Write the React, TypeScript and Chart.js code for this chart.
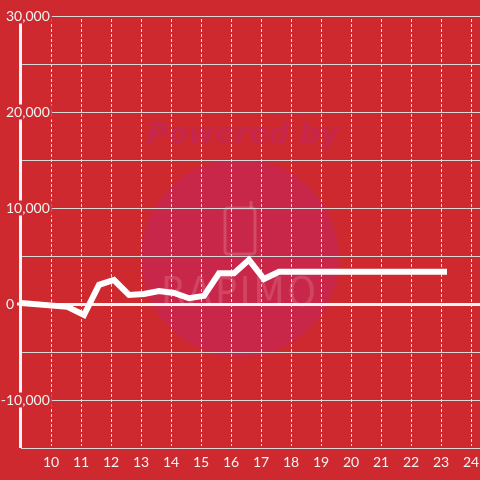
import React, { useEffect, useRef } from 'react';
import { Chart, registerables } from 'chart.js';

Chart.register(...registerables);

// ---- data ----
const hours = [9, 10.55, 11.1, 11.6, 12.1, 12.6, 13.1, 13.6, 14.1, 14.6, 15.1, 15.6, 16.1, 16.6, 17.1, 17.6, 23.2];
const values = [100, -300, -1150, 2000, 2500, 950, 1050, 1350, 1150, 600, 850, 3200, 3200, 4600, 2600, 3350, 3350];
const xTicks = [10, 11, 12, 13, 14, 15, 16, 17, 18, 19, 20, 21, 22, 23, 24];
const yGridTicks = [-15000, -10000, -5000, 0, 5000, 10000, 15000, 20000, 25000, 30000];
const yLabelTicks = [30000, 20000, 10000, 0, -10000];

const X_MIN = 9;
const X_MAX = 24.3;
const Y_MIN = -15000;
const Y_MAX = 30000;

const BG = '#cd292e';
const CIRCLE = '#c9274a';
const TEXT = '#f2f2f2';
const FONT = '14px Lato, "DejaVu Sans", sans-serif';

const decor = {
  id: 'decor',
  beforeDraw(chart: any) {
    const ctx = chart.ctx;
    ctx.save();
    ctx.fillStyle = BG;
    ctx.fillRect(0, 0, chart.width, chart.height);
    // watermark
    ctx.beginPath();
    ctx.arc(240, 258, 99, 0, Math.PI * 2);
    ctx.fillStyle = CIRCLE;
    ctx.fill();
    ctx.font = 'italic bold 29px "DejaVu Sans", sans-serif';
    ctx.fillStyle = '#c8274c';
    ctx.textAlign = 'center';
    ctx.textBaseline = 'alphabetic';
    ctx.fillText('Powered by', 243, 143);
    ctx.strokeStyle = 'rgba(255,255,255,0.17)';
    ctx.lineWidth = 3;
    ctx.beginPath();
    if (ctx.roundRect) ctx.roundRect(225, 208, 30, 46, 3);
    else ctx.rect(225, 208, 30, 46);
    ctx.stroke();
    ctx.beginPath();
    ctx.moveTo(251, 208);
    ctx.lineTo(251, 201);
    ctx.stroke();
    ctx.font = '40px "DejaVu Sans Condensed", "DejaVu Sans", sans-serif';
    ctx.fillStyle = 'rgba(255,255,255,0.14)';
    ctx.textBaseline = 'alphabetic';
    (ctx as any).letterSpacing = '3px';
    ctx.fillText('RAPIMO', 240, 306);
    (ctx as any).letterSpacing = '0px';
    ctx.restore();
  },
  beforeDatasetsDraw(chart: any) {
    const ctx = chart.ctx;
    const { top, bottom, left } = chart.chartArea;
    const xs = chart.scales.x;
    ctx.save();
    ctx.strokeStyle = '#e4e4e4';
    ctx.lineWidth = 1;
    ctx.setLineDash([3, 2]);
    xTicks.forEach((t) => {
      const px = Math.round(xs.getPixelForValue(t)) + 0.5;
      ctx.beginPath();
      ctx.moveTo(px, top + 3);
      ctx.lineTo(px, bottom - 2);
      ctx.stroke();
    });
    ctx.setLineDash([]);
    // zero line extension under axis
    const y0 = chart.scales.y.getPixelForValue(0);
    ctx.strokeStyle = '#f5f5f5';
    ctx.lineWidth = 3;
    ctx.beginPath();
    ctx.moveTo(17, y0);
    ctx.lineTo(left, y0);
    ctx.stroke();
    // y axis line
    ctx.beginPath();
    ctx.moveTo(left - 0.5, top);
    ctx.lineTo(left - 0.5, bottom);
    ctx.stroke();
    ctx.restore();
  },
  afterDraw(chart: any) {
    const ctx = chart.ctx;
    const ys = chart.scales.y;
    const xs = chart.scales.x;
    const { bottom } = chart.chartArea;
    ctx.save();
    ctx.font = FONT;
    ctx.textBaseline = 'middle';
    yLabelTicks.forEach((v) => {
      const label = v.toLocaleString('en-US');
      const py = ys.getPixelForValue(v);
      let tx = 6;
      if (label.startsWith('-')) tx -= ctx.measureText('-').width;
      const w = ctx.measureText(label).width;
      ctx.fillStyle = BG;
      ctx.fillRect(tx - 1, py - 7.5, w + 3, 15);
      ctx.fillStyle = TEXT;
      ctx.textAlign = 'left';
      ctx.fillText(label, tx, py);
    });
    ctx.textAlign = 'center';
    ctx.fillStyle = TEXT;
    xTicks.forEach((t) => {
      const px = xs.getPixelForValue(t);
      ctx.fillText(String(t), px, bottom + 14);
    });
    ctx.restore();
  },
};

export default function App() {
  const ref = useRef<HTMLCanvasElement | null>(null);
  useEffect(() => {
    if (!ref.current) return;
    const chart = new Chart(ref.current, {
      type: 'line',
      data: {
        datasets: [
          {
            data: hours.map((h, i) => ({ x: h, y: values[i] })),
            borderColor: '#ffffff',
            borderWidth: 6,
            pointRadius: 0,
            tension: 0,
            fill: false,
            borderCapStyle: 'butt',
            borderJoinStyle: 'miter',
            clip: false as any,
          },
        ],
      },
      options: {
        animation: false,
        responsive: false,
        devicePixelRatio: 1,
        layout: { padding: { left: 21, top: 16, right: 0, bottom: 32 } },
        plugins: { legend: { display: false }, tooltip: { enabled: false } },
        scales: {
          x: {
            type: 'linear',
            min: X_MIN,
            max: X_MAX,
            ticks: { display: false },
            grid: { display: false, drawTicks: false },
            border: { display: false },
            afterBuildTicks: (s: any) => {
              s.ticks = xTicks.map((v) => ({ value: v }));
            },
          },
          y: {
            type: 'linear',
            min: Y_MIN,
            max: Y_MAX,
            ticks: { display: false },
            grid: {
              drawTicks: false,
              color: (c: any) => (c.tick && c.tick.value === 0 ? '#f5f5f5' : '#d8d8d8'),
              lineWidth: (c: any) => (c.tick && c.tick.value === 0 ? 3 : 1),
            },
            border: { display: false },
            afterBuildTicks: (s: any) => {
              s.ticks = yGridTicks.map((v) => ({ value: v }));
            },
          },
        },
      },
      plugins: [decor],
    });
    return () => chart.destroy();
  }, []);
  return (
    <div style={{ position: 'fixed', left: 0, top: 0, width: 480, height: 480, background: BG }}>
      <canvas ref={ref} width={480} height={480} style={{ display: 'block' }} />
    </div>
  );
}
